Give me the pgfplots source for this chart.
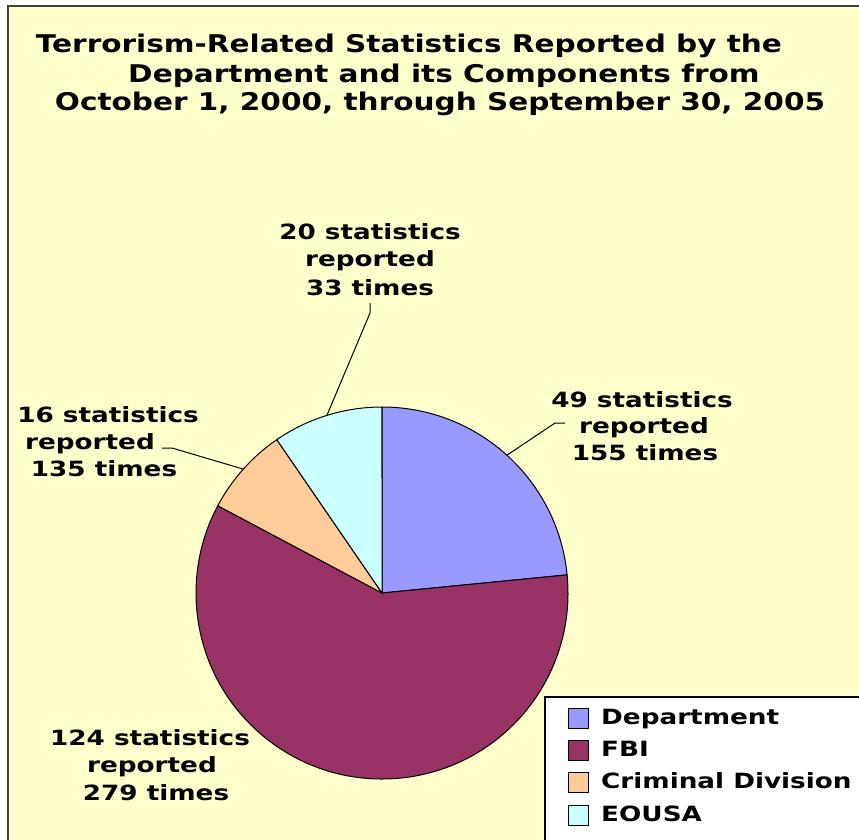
\documentclass[border=0pt]{standalone}
\usepackage{pgfplots}
\pgfplotsset{compat=1.18}
\usepackage{fontspec}
\setmainfont{DejaVu Sans}
\newfontfamily\labfont[FakeStretch=1.25]{DejaVu Sans Bold}
\newfontfamily\ttlfont[FakeStretch=1.21]{DejaVu Sans Bold}
\definecolor{bgyellow}{HTML}{FFFFCC}
\definecolor{dept}{HTML}{9999FF}
\definecolor{fbi}{HTML}{993366}
\definecolor{crim}{HTML}{FFCC99}
\definecolor{eousa}{HTML}{CCFFFF}
\definecolor{framegray}{HTML}{404040}
\newcommand{\lab}{\labfont\fontsize{21}{27}\selectfont}
\newcommand{\ttl}{\ttlfont\fontsize{24.4}{29}\selectfont}

\begin{document}
\begin{tikzpicture}
% number of statistics per component
\def\vDep{49}\def\vFBI{124}\def\vCrim{16}\def\vEou{20}
\pgfmathsetmacro\tot{\vDep+\vFBI+\vCrim+\vEou}
\pgfmathsetmacro\aA{90}
\pgfmathsetmacro\aB{\aA-(360/\tot)*\vDep}
\pgfmathsetmacro\aC{\aB-(360/\tot)*\vFBI}
\pgfmathsetmacro\aD{\aC-(360/\tot)*\vCrim}
\pgfmathsetmacro\aE{\aD-(360/\tot)*\vEou}
\pgfmathsetmacro\mDep{(\aA+\aB)/2}
\pgfmathsetmacro\mCrim{(\aC+\aD)/2}
\pgfmathsetmacro\mEou{(\aD+\aE)/2}
\def\R{186pt}
\path[use as bounding box] (0,0) rectangle (859pt,839pt);
\begin{axis}[
  width=859pt, height=839pt, scale only axis,
  xmin=0, xmax=859, ymin=0, ymax=839, y dir=reverse,
  hide axis, clip=false,
  legend style={at={(axis cs:568,707)}, anchor=north west, draw=none, fill=none,
    inner sep=0pt, row sep=10.3pt, column sep=12pt,
    nodes={inner sep=0pt, text height=17pt, text depth=5pt}, font=\lab},
  legend cell align=left,
  legend image code/.code={\draw[#1, line width=1pt] (0pt,-10pt) rectangle (20pt,10pt);},
]
% background
\fill[white] (axis cs:0,0) rectangle (axis cs:859,839);
\fill[bgyellow] (axis cs:8,6) rectangle (axis cs:880,860);
\draw[framegray, line width=2pt] (axis cs:8,860) -- (axis cs:8,6) -- (axis cs:880,6);

% title
\node[anchor=base, font=\ttl] at (axis cs:409,52) {Terrorism-Related Statistics Reported by the};
\node[anchor=base, font=\ttl] at (axis cs:444,82) {Department and its Components from};
\node[anchor=base, font=\ttl] at (axis cs:440,110) {October 1, 2000, through September 30, 2005};

% pie slices
\fill[dept, draw=black, line width=1pt] (axis cs:382,593) -- ++(\aA:\R) arc[start angle=\aA, end angle=\aB, radius=\R] -- cycle;
\fill[fbi, draw=black, line width=1pt] (axis cs:382,593) -- ++(\aB:\R) arc[start angle=\aB, end angle=\aC, radius=\R] -- cycle;
\fill[crim, draw=black, line width=1pt] (axis cs:382,593) -- ++(\aC:\R) arc[start angle=\aC, end angle=\aD, radius=\R] -- cycle;
\fill[eousa, draw=black, line width=1pt] (axis cs:382,593) -- ++(\aD:\R) arc[start angle=\aD, end angle=\aE, radius=\R] -- cycle;

% leader lines
\draw[black, line width=1pt] (axis cs:382,593) ++(\mDep:\R) -- (axis cs:555,423) -- (axis cs:565,423);
\draw[black, line width=1pt] (axis cs:382,593) ++(\mCrim:\R) -- (axis cs:172,448) -- (axis cs:162,448);
\draw[black, line width=1pt] (axis cs:382,593) ++(\mEou:\R) -- (axis cs:370,313) -- (axis cs:370,303);

% labels
\node[anchor=base, font=\lab] at (axis cs:370,239) {20 statistics};
\node[anchor=base, font=\lab] at (axis cs:370,266) {reported};
\node[anchor=base, font=\lab] at (axis cs:370,295) {33 times};
\node[anchor=base, font=\lab] at (axis cs:642,407) {49 statistics};
\node[anchor=base, font=\lab] at (axis cs:644,433) {reported};
\node[anchor=base, font=\lab] at (axis cs:645,460) {155 times};
\node[anchor=base, font=\lab] at (axis cs:108,422) {16 statistics};
\node[anchor=base, font=\lab] at (axis cs:90,449) {reported};
\node[anchor=base, font=\lab] at (axis cs:104,476) {135 times};
\node[anchor=base, font=\lab] at (axis cs:150,745) {124 statistics};
\node[anchor=base, font=\lab] at (axis cs:152,772) {reported};
\node[anchor=base, font=\lab] at (axis cs:156,800) {279 times};

% legend box
\draw[black, fill=white, line width=1.5pt] (axis cs:545,697) rectangle (axis cs:900,870);
\addlegendimage{fill=dept, draw=black}
\addlegendentry{Department}
\addlegendimage{fill=fbi, draw=black}
\addlegendentry{FBI}
\addlegendimage{fill=crim, draw=black}
\addlegendentry{Criminal Division}
\addlegendimage{fill=eousa, draw=black}
\addlegendentry{EOUSA}
\end{axis}
\end{tikzpicture}
\end{document}
